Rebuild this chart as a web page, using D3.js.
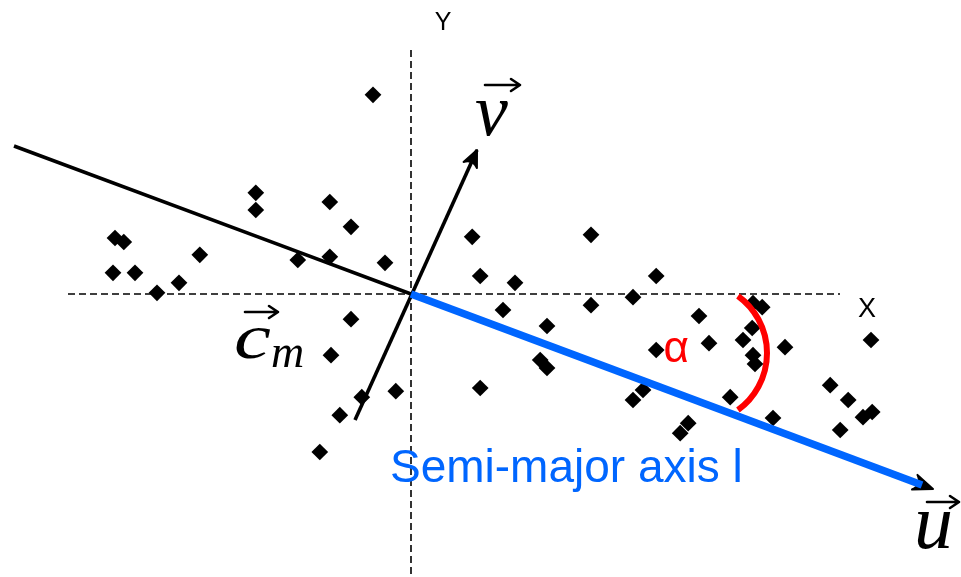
<!DOCTYPE html>
<html>
<head>
<meta charset="utf-8">
<script src="https://cdn.jsdelivr.net/npm/d3@7"></script>
<style>
  html, body { margin: 0; padding: 0; background: #fff; }
  svg { display: block; }
</style>
</head>
<body>
<svg id="chart" width="961" height="577"></svg>
<script>
// Scatter of 2-D samples with their principal axes through the centroid.
const scatterX = [-0.95, -3.88, -3.88, -2.03, -1.50, -7.40, -7.18, -7.45, -6.90, -5.28,
                  -5.80, -6.35, -2.83, -2.03, -0.65, -1.50, -2.00, -0.38, -1.23, -1.78,
                  -2.28, 1.73, 1.53, 4.50, 1.73, 2.60, 6.13, 5.55, 4.50, 2.30,
                  3.40, 3.23, 3.40, 6.13, 7.20, 7.45, 8.78, 8.30, 8.55, 8.60,
                  8.53, 9.35, 11.50, 10.48, 10.93, 11.30, 11.53, 10.73, 9.05, 7.98,
                  5.55, 5.80, 6.73, 6.93, 8.55];
const scatterY = [4.98, 2.53, 2.10, 2.30, 1.68, 1.40, 1.30, 0.53, 0.53, 0.98,
                  0.28, 0.03, 0.85, 0.93, 0.78, -0.63, -1.53, -2.43, -2.58, -3.03,
                  -3.95, -2.35, 1.43, 1.48, 0.45, 0.28, 0.45, -0.08, -0.28, -0.40,
                  -0.80, -1.65, -1.85, -1.40, -0.55, -1.23, -0.33, -1.15, -1.53, -1.75,
                  -0.85, -1.33, -1.15, -2.28, -2.65, -3.08, -2.95, -3.40, -3.10, -2.58,
                  -2.65, -2.40, -3.48, -3.23, -0.23];

// Reference axes (dashed) extents, in data units
const xAxisRange = [-8.575, 10.725];
const yAxisRange = [-7.075, 6.1];

// Principal directions through the centroid c_m = (0, 0)
const majorTail = [-9.925, 3.70];      // far end of the major axis line
const majorHead = [12.775, -4.775];    // end of the semi-major axis l
const majorTip  = [13.05, -4.875];     // arrow tip of u
const minorTail = [-1.40, -3.15];
const minorTip  = [1.65, 3.60];        // arrow tip of v

// Angle marker alpha between the major axis and the X direction
const alphaCenter = [7.1375, -1.475];
const alphaRadius = 1.7625;
const alphaSpan = [36, 144];           // degrees, clockwise from 12 o'clock

const svg = d3.select("#chart");

const x = d3.scaleLinear().domain([-10, 13.75]).range([11, 961]);
const y = d3.scaleLinear().domain([-7.075, 7.35]).range([577, 0]);
const pt = d => [x(d[0]), y(d[1])];

const defs = svg.append("defs");
defs.append("filter").attr("id", "soft")
  .attr("x", "-20%").attr("y", "-20%").attr("width", "140%").attr("height", "140%")
  .append("feGaussianBlur").attr("stdDeviation", 0.65);

// dashed X / Y reference axes
const axes = svg.append("g").attr("stroke", "#000").attr("stroke-width", 1.6)
  .attr("stroke-dasharray", "7,4").attr("fill", "none");
axes.append("line")
  .attr("x1", x(xAxisRange[0])).attr("x2", x(xAxisRange[1]))
  .attr("y1", y(0)).attr("y2", y(0));
axes.append("line")
  .attr("x1", x(0)).attr("x2", x(0))
  .attr("y1", y(yAxisRange[1])).attr("y2", y(yAxisRange[0]));

const soft = svg.append("g").attr("filter", "url(#soft)");

// scatter points
const diamond = d3.symbol().type(d3.symbolSquare).size(140);
soft.append("g").selectAll("path")
  .data(scatterX.map((v, i) => [v, scatterY[i]]))
  .join("path")
  .attr("d", diamond)
  .attr("transform", d => `translate(${x(d[0])},${y(d[1])}) rotate(45)`)
  .attr("fill", "#000");

// arrow head helper: two barbs behind the tip
function arrowHead(g, from, tip, len, spread, width) {
  const a = Math.atan2(tip[1] - from[1], tip[0] - from[0]);
  const p1 = [tip[0] - len * Math.cos(a - spread), tip[1] - len * Math.sin(a - spread)];
  const p2 = [tip[0] - len * Math.cos(a + spread), tip[1] - len * Math.sin(a + spread)];
  const back = [tip[0] - len * 0.55 * Math.cos(a), tip[1] - len * 0.55 * Math.sin(a)];
  g.append("path")
    .attr("d", `M${p1}L${tip}L${p2}Q${back} ${p1}Z`)
    .attr("fill", "#000").attr("stroke", "#000")
    .attr("stroke-width", width).attr("stroke-linejoin", "round");
}

// major axis (black part, upper left) and minor axis with arrow
soft.append("line")
  .attr("x1", x(majorTail[0])).attr("y1", y(majorTail[1]))
  .attr("x2", x(0)).attr("y2", y(0))
  .attr("stroke", "#000").attr("stroke-width", 3.6);
soft.append("line")
  .attr("x1", x(minorTail[0])).attr("y1", y(minorTail[1]))
  .attr("x2", x(minorTip[0])).attr("y2", y(minorTip[1]))
  .attr("stroke", "#000").attr("stroke-width", 3.6);
arrowHead(soft, pt(minorTail), pt(minorTip), 18, 0.42, 2);
arrowHead(soft, pt([0, 0]), pt(majorTip), 21, 0.38, 2);

// semi-major axis in blue
svg.append("line")
  .attr("x1", x(0)).attr("y1", y(0))
  .attr("x2", x(majorHead[0])).attr("y2", y(majorHead[1]))
  .attr("stroke", "#0066ff").attr("stroke-width", 7.5);

// angle arc alpha
const rPx = x(alphaRadius) - x(0);
svg.append("path")
  .attr("transform", `translate(${x(alphaCenter[0])},${y(alphaCenter[1])})`)
  .attr("d", d3.arc()({
    innerRadius: rPx, outerRadius: rPx,
    startAngle: alphaSpan[0] * Math.PI / 180,
    endAngle: alphaSpan[1] * Math.PI / 180
  }))
  .attr("fill", "none").attr("stroke", "#ff0000").attr("stroke-width", 6);

// axis names
svg.append("text").text("Y")
  .attr("x", x(0) + 32).attr("y", y(yAxisRange[1]) - 20)
  .attr("text-anchor", "middle")
  .attr("font-family", "Liberation Sans, Arial, sans-serif").attr("font-size", 25);
svg.append("text").text("X")
  .attr("x", x(xAxisRange[1]) + 18).attr("y", y(0) + 23)
  .attr("font-family", "Liberation Sans, Arial, sans-serif").attr("font-size", 27);

// alpha and semi-major labels
svg.append("text").text("α")
  .attr("x", x(alphaCenter[0]) - 33).attr("y", y(alphaCenter[1]) + 9)
  .attr("fill", "#ff0000")
  .attr("font-family", "Liberation Sans, Arial, sans-serif").attr("font-size", 44);
svg.append("text").text("Semi-major axis l")
  .attr("x", x(0) - 21).attr("y", y(0) + 188)
  .attr("fill", "#0066ff")
  .attr("font-family", "Liberation Sans, Arial, sans-serif").attr("font-size", 46);

// vector labels: italic letter with an arrow above
function vecLabel(letter, sub, bx, by, size, sx, arrow) {
  const g = svg.append("g");
  g.append("text").text(letter)
    .attr("transform", `translate(${bx},${by}) scale(${sx},1)`)
    .attr("font-family", "Liberation Serif, Times New Roman, serif")
    .attr("font-style", "italic").attr("font-size", size);
  if (sub) {
    g.append("text").text(sub.text)
      .attr("x", sub.x).attr("y", sub.y)
      .attr("font-family", "Liberation Serif, Times New Roman, serif")
      .attr("font-style", "italic").attr("font-size", sub.size);
  }
  const [ax0, ax1, ay] = arrow;
  g.append("path")
    .attr("d", `M${ax0},${ay}H${ax1}M${ax1 - 9},${ay - 6}L${ax1},${ay}L${ax1 - 9},${ay + 6}`)
    .attr("fill", "none").attr("stroke", "#000").attr("stroke-width", 2.6)
    .attr("stroke-linecap", "round").attr("stroke-linejoin", "round");
}
const v0 = pt(minorTip), u0 = pt(majorTip), c0 = pt([0, 0]);
vecLabel("v", null, v0[0] - 2, v0[1] - 15, 74, 1, [v0[0] + 8, v0[0] + 43, v0[1] - 65]);
vecLabel("u", null, u0[0] - 19, u0[1] + 59, 78, 1, [u0[0] - 6, u0[0] + 26, u0[1] + 13]);
vecLabel("c", { text: "m", x: c0[0] - 140, y: c0[1] + 73, size: 46 },
         c0[0] - 177, c0[1] + 64, 64, 1.3, [c0[0] - 166, c0[0] - 133, c0[1] + 18]);
</script>
</body>
</html>
